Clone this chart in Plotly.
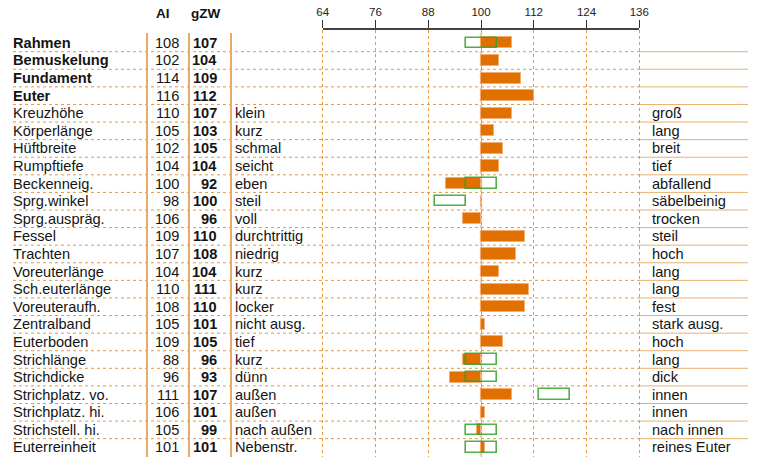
import plotly.graph_objects as go

# ---------------- data ----------------
labels = ["Rahmen", "Bemuskelung", "Fundament", "Euter", "Kreuzhöhe", "Körperlänge",
          "Hüftbreite", "Rumpftiefe", "Beckenneig.", "Sprg.winkel", "Sprg.auspräg.",
          "Fessel", "Trachten", "Voreuterlänge", "Sch.euterlänge", "Voreuteraufh.",
          "Zentralband", "Euterboden", "Strichlänge", "Strichdicke", "Strichplatz. vo.",
          "Strichplatz. hi.", "Strichstell. hi.", "Euterreinheit"]
bold_rows = [True, True, True, True] + [False] * 20
ai_values = [108, 102, 114, 116, 110, 105, 102, 104, 100, 98, 106, 109, 107, 104,
             110, 108, 105, 109, 88, 96, 111, 106, 105, 101]
gzw_values = [107, 104, 109, 112, 107, 103, 105, 104, 92, 100, 96, 110, 108, 104,
              111, 110, 101, 105, 96, 93, 107, 101, 99, 101]
left_terms = ["", "", "", "", "klein", "kurz", "schmal", "seicht", "eben", "steil", "voll",
              "durchtrittig", "niedrig", "kurz", "kurz", "locker", "nicht ausg.", "tief",
              "kurz", "dünn", "außen", "außen", "nach außen", "Nebenstr."]
right_terms = ["", "", "", "", "groß", "lang", "breit", "tief", "abfallend", "säbelbeinig",
               "trocken", "steil", "hoch", "lang", "lang", "fest", "stark ausg.", "hoch",
               "lang", "dick", "innen", "innen", "nach innen", "reines Euter"]
green_lo = [96.7, None, None, None, None, None, None, None, 96.7, 89.6, None, None, None,
            None, None, None, None, None, 96.7, 96.7, 113.2, None, 96.7, 96.7]
green_hi = [103.7, None, None, None, None, None, None, None, 103.7, 96.6, None, None, None,
            None, None, None, None, None, 103.7, 103.7, 120.2, None, 103.7, 103.7]
axis_ticks = [64, 76, 88, 100, 112, 124, 136]
base_value = 100
header_ai = "AI"
header_gzw = "gZW"

# ---------------- layout geometry ----------------
W, H = 761, 457
TOP, BOTTOM = 30, 0
PLOT_H = H - TOP - BOTTOM
PX_PER_UNIT = (639.3 - 322.7) / 72.0
X0 = 64 - 322.7 / PX_PER_UNIT
X1 = 136 + (W - 639.3) / PX_PER_UNIT
ROW_PX = 17.59
Y_TOP = -0.5 - (34.1 - TOP) / ROW_PX
Y_BOT = Y_TOP + PLOT_H / ROW_PX

FONT = "Liberation Sans, Arial, Helvetica, sans-serif"
TXT = "#141414"
ORANGE = "#e07000"
GREEN = "rgba(52,160,44,0.85)"
GRID = "#e39a3f"
FS = 14.6


def px(x):
    return x / W


def py(y):
    return (H - y) / PLOT_H


rows = list(range(len(labels)))

fig = go.Figure()

# orange bars: gZW relative to 100
fig.add_trace(go.Bar(
    y=rows, x=[v - base_value for v in gzw_values], base=base_value,
    orientation="h", width=0.63,
    marker=dict(color=ORANGE, line=dict(color="rgba(245,170,110,0.8)", width=1)),
    hoverinfo="skip", showlegend=False,
))

# green outlined boxes
g_rows = [r for r in rows if green_lo[r] is not None]
fig.add_trace(go.Bar(
    y=g_rows, x=[green_hi[r] - green_lo[r] for r in g_rows],
    base=[green_lo[r] for r in g_rows],
    orientation="h", width=0.6,
    marker=dict(color="rgba(0,0,0,0)", line=dict(color=GREEN, width=1.6)),
    hoverinfo="skip", showlegend=False,
))

# dummy trace for the top scale axis
fig.add_trace(go.Scatter(x=[axis_ticks[0], axis_ticks[-1]], y=[0, 0], xaxis="x2", yaxis="y2",
                         mode="markers", marker=dict(opacity=0), hoverinfo="skip",
                         showlegend=False))

shapes = []
# horizontal separators
for i in rows[:-1]:
    yv = i + 0.5
    shapes.append(dict(type="line", xref="paper", yref="y", x0=px(13), x1=px(640),
                       y0=yv, y1=yv, line=dict(color=GRID, width=1, dash="dot"),
                       layer="below"))
    shapes.append(dict(type="line", xref="paper", yref="y", x0=px(640), x1=px(748),
                       y0=yv, y1=yv, line=dict(color="#eab06e", width=1), layer="below"))
# table column lines
for xp in (147, 189, 231):
    shapes.append(dict(type="line", xref="paper", yref="paper", x0=px(xp), x1=px(xp),
                       y0=py(33), y1=0, line=dict(color="#e8aa66", width=2), layer="below"))
# emphasised 100 line
shapes.append(dict(type="line", xref="x", yref="paper", x0=base_value, x1=base_value,
                   y0=py(33), y1=0, line=dict(color="rgba(232,160,90,0.55)", width=2.5,
                                               dash="dot"), layer="below"))

annotations = []


def add_text(x, y, text, anchor, bold=False, yref="y", size=FS):
    annotations.append(dict(
        x=px(x), y=y, xref="paper", yref=yref, text=f"<b>{text}</b>" if bold else text,
        showarrow=False, xanchor=anchor, yanchor="middle", borderpad=0,
        font=dict(family=FONT, size=size, color=TXT)))


for r in rows:
    add_text(12, r, labels[r], "left", bold=bold_rows[r])
    add_text(179.5, r, str(ai_values[r]), "right")
    add_text(218, r, str(gzw_values[r]), "right", bold=True)
    if left_terms[r]:
        add_text(233.5, r, left_terms[r], "left")
    if right_terms[r]:
        add_text(651, r, right_terms[r], "left")

add_text(163, py(14), header_ai, "center", bold=True, yref="paper", size=13.5)
add_text(205, py(14), header_gzw, "center", bold=True, yref="paper", size=13.5)

fig.update_layout(
    width=W, height=H, autosize=False,
    margin=dict(l=0, r=0, t=TOP, b=BOTTOM, pad=0, autoexpand=False),
    paper_bgcolor="white", plot_bgcolor="rgba(0,0,0,0)",
    barmode="overlay", bargap=0,
    font=dict(family=FONT, color=TXT),
    xaxis=dict(range=[X0, X1], domain=[0, 1], tickvals=axis_ticks, showticklabels=False,
               ticks="", showgrid=True, gridcolor=GRID, gridwidth=1, griddash="dot",
               zeroline=False, showline=False, fixedrange=True, automargin=False),
    yaxis=dict(range=[Y_BOT, Y_TOP], domain=[0, 1], showgrid=False, zeroline=False,
               showticklabels=False, ticks="", showline=False, fixedrange=True,
               automargin=False),
    xaxis2=dict(domain=[px(322.7), px(639.3)], range=[axis_ticks[0], axis_ticks[-1]],
                anchor="y2", side="top", tickvals=axis_ticks,
                ticktext=[str(t) for t in axis_ticks], ticks="outside", ticklen=8,
                tickwidth=1.2, tickcolor="#333", showline=True, linecolor="#444",
                linewidth=1.5, showgrid=False, zeroline=False, automargin=False,
                tickfont=dict(family=FONT, size=11.5, color="#222"), fixedrange=True),
    yaxis2=dict(domain=[0, 1], anchor="x2", range=[-1, 1], visible=False, fixedrange=True),
    shapes=shapes,
    annotations=annotations,
)

fig.write_html("out.html",
               config={"responsive": False, "displayModeBar": False},
               post_script="document.body.style.margin='0px';"
                           "document.body.style.overflow='hidden';")
